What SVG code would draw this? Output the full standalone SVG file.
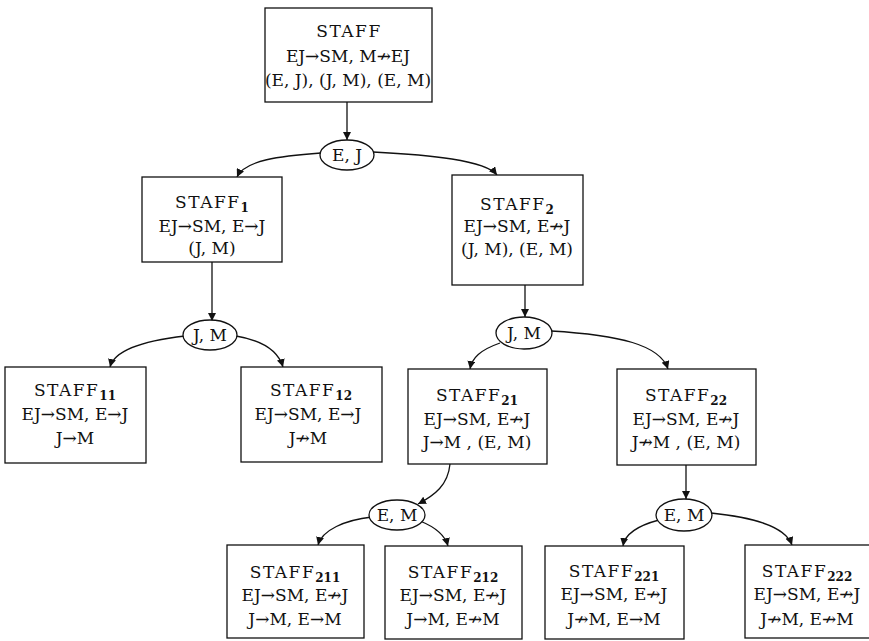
<svg xmlns="http://www.w3.org/2000/svg" width="869" height="641" viewBox="0 0 869 641">
<style>
text{font-family:"DejaVu Serif","Liberation Serif",serif;font-size:17px;fill:#111;text-anchor:middle}
.t{letter-spacing:1.5px}
.box{fill:#fff;stroke:#111;stroke-width:1.3}
.ell{fill:#fff;stroke:#111;stroke-width:1.3}
.con{fill:none;stroke:#111;stroke-width:1.3}
.sub{font-size:12px;font-weight:bold;letter-spacing:0}
</style>
<defs>
<marker id="ah" viewBox="0 0 10 10" refX="10" refY="5" markerWidth="8" markerHeight="8" markerUnits="userSpaceOnUse" orient="auto">
<path d="M0,0 L10,5 L0,10 z" fill="#111"/>
</marker>
</defs>
<rect width="869" height="641" fill="#fff"/>
<g id="connectors">
<path class="con" d="M347,102 L347,140" marker-end="url(#ah)"/>
<path class="con" d="M321,153 C280,156 245,160 237,177" marker-end="url(#ah)"/>
<path class="con" d="M373,152 C430,155 485,160 497,175" marker-end="url(#ah)"/>
<path class="con" d="M212,262 L212,321" marker-end="url(#ah)"/>
<path class="con" d="M185,336 C150,340 115,348 110,367" marker-end="url(#ah)"/>
<path class="con" d="M236,336 C260,340 278,350 283,367" marker-end="url(#ah)"/>
<path class="con" d="M525,285 L525,317" marker-end="url(#ah)"/>
<path class="con" d="M500,343 C480,350 472,358 470,369" marker-end="url(#ah)"/>
<path class="con" d="M551,331 C620,335 660,345 668,369" marker-end="url(#ah)"/>
<path class="con" d="M450,464 C448,485 435,495 418,504" marker-end="url(#ah)"/>
<path class="con" d="M372,517 C345,520 322,530 318,545" marker-end="url(#ah)"/>
<path class="con" d="M420,521 C435,527 445,535 448,546" marker-end="url(#ah)"/>
<path class="con" d="M686,465 L686,499" marker-end="url(#ah)"/>
<path class="con" d="M659,520 C640,525 625,533 623,546" marker-end="url(#ah)"/>
<path class="con" d="M711,513 C750,517 785,525 792,545" marker-end="url(#ah)"/>
</g>
<g id="staff">
<rect class="box" x="265" y="8" width="167" height="94"/>
<text class="t" x="349" y="37">STAFF</text>
<text x="348" y="62">EJ→SM, M↛EJ</text>
<text x="348" y="86">(E, J), (J, M), (E, M)</text>
</g>
<g id="ej">
<ellipse class="ell" cx="347" cy="155" rx="27" ry="15"/>
<text x="347" y="161">E, J</text>
</g>
<g id="staff1">
<rect class="box" x="142" y="177" width="140" height="85"/>
<text class="t" x="212" y="208">STAFF<tspan class="sub" dy="4">1</tspan></text>
<text x="212" y="232">EJ→SM, E→J</text>
<text x="212" y="254">(J, M)</text>
</g>
<g id="staff2">
<rect class="box" x="452" y="175" width="131" height="110"/>
<text class="t" x="517" y="210">STAFF<tspan class="sub" dy="4">2</tspan></text>
<text x="517" y="232">EJ→SM, E↛J</text>
<text x="517" y="255">(J, M), (E, M)</text>
</g>
<g id="jm1">
<ellipse class="ell" cx="210" cy="335" rx="27" ry="15"/>
<text x="210" y="341">J, M</text>
</g>
<g id="jm2">
<ellipse class="ell" cx="524" cy="333" rx="28" ry="16"/>
<text x="524" y="339">J, M</text>
</g>
<g id="staff11">
<rect class="box" x="5" y="367" width="141" height="96"/>
<text class="t" x="75" y="396">STAFF<tspan class="sub" dy="4">11</tspan></text>
<text x="75" y="420">EJ→SM, E→J</text>
<text x="75" y="444">J→M</text>
</g>
<g id="staff12">
<rect class="box" x="241" y="367" width="141" height="95"/>
<text class="t" x="311" y="396">STAFF<tspan class="sub" dy="4">12</tspan></text>
<text x="308" y="420">EJ→SM, E→J</text>
<text x="308" y="444">J↛M</text>
</g>
<g id="staff21">
<rect class="box" x="408" y="369" width="139" height="95"/>
<text class="t" x="477" y="401">STAFF<tspan class="sub" dy="4">21</tspan></text>
<text x="477" y="425">EJ→SM, E↛J</text>
<text x="477" y="448">J→M , (E, M)</text>
</g>
<g id="staff22">
<rect class="box" x="617" y="369" width="139" height="96"/>
<text class="t" x="686" y="401">STAFF<tspan class="sub" dy="4">22</tspan></text>
<text x="686" y="425">EJ→SM, E↛J</text>
<text x="686" y="448">J↛M , (E, M)</text>
</g>
<g id="em1">
<ellipse class="ell" cx="397" cy="515" rx="28" ry="15"/>
<text x="397" y="521">E, M</text>
</g>
<g id="em2">
<ellipse class="ell" cx="684" cy="515" rx="28" ry="16" stroke-width="2"/>
<text x="684" y="521">E, M</text>
</g>
<g id="staff211">
<rect class="box" x="227" y="545" width="137" height="93"/>
<text class="t" x="295" y="578">STAFF<tspan class="sub" dy="4">211</tspan></text>
<text x="295" y="601">EJ→SM, E↛J</text>
<text x="295" y="625">J→M, E→M</text>
</g>
<g id="staff212">
<rect class="box" x="385" y="546" width="137" height="93"/>
<text class="t" x="453" y="578">STAFF<tspan class="sub" dy="4">212</tspan></text>
<text x="453" y="601">EJ→SM, E↛J</text>
<text x="453" y="625">J→M, E↛M</text>
</g>
<g id="staff221">
<rect class="box" x="545" y="546" width="139" height="93"/>
<text class="t" x="614" y="577">STAFF<tspan class="sub" dy="4">221</tspan></text>
<text x="614" y="600">EJ→SM, E↛J</text>
<text x="614" y="625">J↛M, E→M</text>
</g>
<g id="staff222">
<rect class="box" x="745" y="545" width="130" height="93"/>
<text class="t" x="807" y="577">STAFF<tspan class="sub" dy="4">222</tspan></text>
<text x="807" y="600">EJ→SM, E↛J</text>
<text x="807" y="625">J↛M, E↛M</text>
</g>
</svg>
